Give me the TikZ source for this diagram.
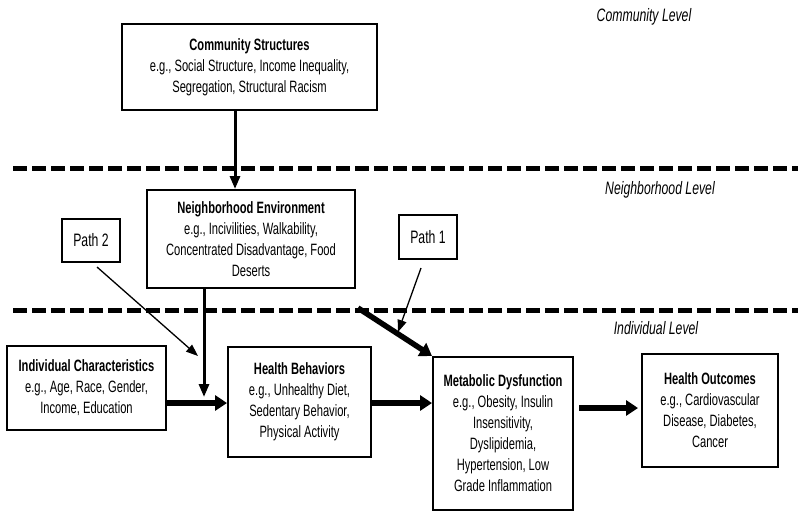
\documentclass[tikz,border=0pt]{standalone}
\usepackage{fontspec}
\setmainfont[FakeStretch=0.68]{Liberation Sans}
\usetikzlibrary{arrows.meta,calc}
\begin{document}
\begin{tikzpicture}[x=1pt,y=-1pt,
  box/.style={draw, line width=2pt, align=center, inner sep=0pt,
    font=\fontsize{16.4}{21}\selectfont},
  pathbox/.style={draw, line width=1.6pt, align=center, inner sep=0pt,
    font=\fontsize{18}{20}\selectfont},
  levellabel/.style={inner sep=0pt, font=\itshape\fontsize{18}{20}\selectfont},
  levelline/.style={line width=5pt, dash pattern=on 14pt off 5pt},
  bigarrow/.style={line width=5.5pt, -{Triangle[length=12pt,width=15pt]}},
  midarrow/.style={line width=3pt, -{Triangle[length=13pt,width=10pt]}},
  thinarrow/.style={line width=1.3pt, -{Triangle[length=12pt,width=9pt]}}]
\useasboundingbox (0,0) rectangle (800,522);
\fill[white] (0,0) rectangle (800,522);

% level lines
\draw[levelline] (13,168) -- (798,168);
\draw[levelline] (13,310) -- (798,310);

% level labels
\node[levellabel] (lcomm) at (644,17) {Community Level};
\node[levellabel] (lneigh) at (660,190) {Neighborhood Level};
\node[levellabel] (lindiv) at (656,328) {Individual Level};

% boxes
\node[box, minimum width=255pt, minimum height=86pt] (comm) at (249.5,67)
  {\textbf{Community Structures}\\e.g., Social Structure, Income Inequality,\\Segregation, Structural Racism};
\node[box, minimum width=208pt, minimum height=98pt] (neigh) at (251,239)
  {\textbf{Neighborhood Environment}\\e.g., Incivilities, Walkability,\\Concentrated Disadvantage, Food\\Deserts};
\node[pathbox, minimum width=58pt, minimum height=43pt] (path2) at (91,240.5) {Path 2};
\node[pathbox, minimum width=58pt, minimum height=44pt] (path1) at (428,237) {Path 1};
\node[box, minimum width=159pt, minimum height=84pt] (indiv) at (86.5,388)
  {\textbf{Individual Characteristics}\\e.g., Age, Race, Gender,\\Income, Education};
\node[box, minimum width=143pt, minimum height=110pt] (behav) at (299.5,402)
  {\textbf{Health Behaviors}\\e.g., Unhealthy Diet,\\Sedentary Behavior,\\Physical Activity};
\node[box, minimum width=140pt, minimum height=153pt] (metab) at (503,433.5)
  {\textbf{Metabolic Dysfunction}\\e.g., Obesity, Insulin\\Insensitivity,\\Dyslipidemia,\\Hypertension, Low\\Grade Inflammation};
\node[box, minimum width=136pt, minimum height=113pt] (outc) at (710,410.5)
  {\textbf{Health Outcomes}\\e.g., Cardiovascular\\Disease, Diabetes,\\Cancer};

% free ends
\coordinate (vend) at (204,397);
\coordinate (dstart) at (358,308);
\coordinate (p2s) at (97,267);
\coordinate (p2e) at (198,356);
\coordinate (p1s) at (421,268);
\coordinate (p1e) at (398,332);
\coordinate (oin) at ([yshift=2.5pt]outc.west);

% connectors
\draw[midarrow] ([xshift=-14.5pt]comm.south) -- ([xshift=-14.5pt]comm.south |- neigh.north);
\draw[midarrow] (neigh.south -| vend) -- (vend);
\draw[bigarrow] ([yshift=-15pt]indiv.east) -- ([yshift=-15pt]indiv.east -| behav.west);
\draw[bigarrow] ([yshift=-1pt]behav.east) -- ([yshift=-1pt]behav.east -| metab.west);
\draw[bigarrow, shorten <=5pt, shorten >=3pt] (metab.east |- oin) -- (oin);
\draw[bigarrow] (dstart) -- (metab.north west);
\draw[thinarrow] (p2s) -- (p2e);
\draw[thinarrow] (p1s) -- (p1e);
\end{tikzpicture}
\end{document}
